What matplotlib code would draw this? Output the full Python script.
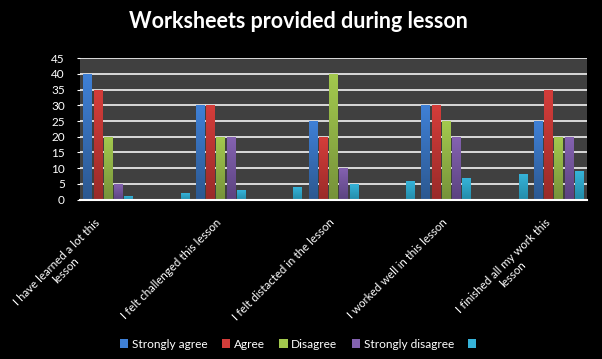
import matplotlib
matplotlib.use('Agg')
import matplotlib.pyplot as plt
import numpy as np
from matplotlib.colors import LinearSegmentedColormap
from matplotlib.patches import Patch
import matplotlib.transforms as mtransforms

plt.rcParams['font.family'] = ['Lato', 'DejaVu Sans']

categories = ["I have learned a lot this\nlesson", "", "I felt challenged this lesson", "",
              "I felt distacted in the lesson", "", "I worked well in this lesson", "",
              "I finished all my work this\nlesson"]
series_names = ["Strongly agree", "Agree", "Disagree", "Strongly disagree", ""]
strongly_agree = [40, np.nan, 30, np.nan, 25, np.nan, 30, np.nan, 25]
agree = [35, np.nan, 30, np.nan, 20, np.nan, 30, np.nan, 35]
disagree = [20, np.nan, 20, np.nan, 40, np.nan, 25, np.nan, 20]
strongly_disagree = [5, np.nan, 20, np.nan, 10, np.nan, 20, np.nan, 20]
unnamed = [1, 2, 3, 4, 5, 6, 7, 8, 9]
yticks = [0, 5, 10, 15, 20, 25, 30, 35, 40, 45]

series = [strongly_agree, agree, disagree, strongly_disagree, unnamed]
tops = ['#3F80D6', '#D43D3A', '#A3C94E', '#8462B0', '#36B3D9']
bottoms = ['#2C5890', '#992B29', '#76923A', '#5B4380', '#238BA8']

fig = plt.figure(figsize=(6.02, 3.59), dpi=100, facecolor='black')
ax = fig.add_axes([80/602, 1-199.5/359, 507/602, (199.5-58.3)/359])
ax.set_facecolor('#404040')

n = len(categories)
x = np.arange(n)
pitch = 0.181
width = 0.155
for j, (vals, top, bot) in enumerate(zip(series, tops, bottoms)):
    offs = (j - 2) * pitch
    bars = ax.bar(x + offs, vals, width=width, color=top, zorder=3, linewidth=0)
    cmap = LinearSegmentedColormap.from_list('g%d' % j, [bot, top])
    grad = np.linspace(0, 1, 64).reshape(-1, 1)
    for b in bars:
        h = b.get_height()
        if not np.isfinite(h) or h <= 0:
            continue
        x0 = b.get_x()
        ax.imshow(grad, extent=[x0, x0 + b.get_width(), 0, h], origin='lower',
                  aspect='auto', cmap=cmap, zorder=4, interpolation='bilinear')

ax.set_xlim(-0.5, n - 0.5)
ax.set_ylim(0, 45)
ax.set_yticks(yticks)
ax.set_yticklabels([str(v) for v in yticks], color='white', fontsize=8.5)
ax.tick_params(axis='y', length=2, color='white', pad=9)
ax.set_xticks([])
for s in ax.spines.values():
    s.set_visible(False)
for v in yticks[1:]:
    ax.axhline(v, color='#f4f4f4', lw=1.2, zorder=2)
ax.axhline(0, color='white', lw=1.5, zorder=5, clip_on=False)

offset = mtransforms.ScaledTranslation(3/100, -17/100, fig.dpi_scale_trans)
trans = mtransforms.blended_transform_factory(ax.transData, ax.transAxes) + offset
for i, lab in enumerate(categories):
    if lab:
        ax.text(i, 0, lab, transform=trans, rotation=45, ha='right', va='top',
                multialignment='center', color='white', fontsize=8.3)

fig.text(298/602, 1-22/359, "Worksheets provided during lesson", ha='center', va='center',
         color='white', fontsize=15.5, fontweight='bold')

handles = [Patch(facecolor=t, edgecolor='none') for t in tops]
leg = fig.legend(handles, series_names, loc='center', bbox_to_anchor=(300/602, 1-344/359),
                 ncol=5, frameon=False, fontsize=8.6, handlelength=0.7, handleheight=0.7,
                 handletextpad=0.3, columnspacing=1.2, labelcolor='white')

fig.savefig('out.png', dpi=100, facecolor='black')
